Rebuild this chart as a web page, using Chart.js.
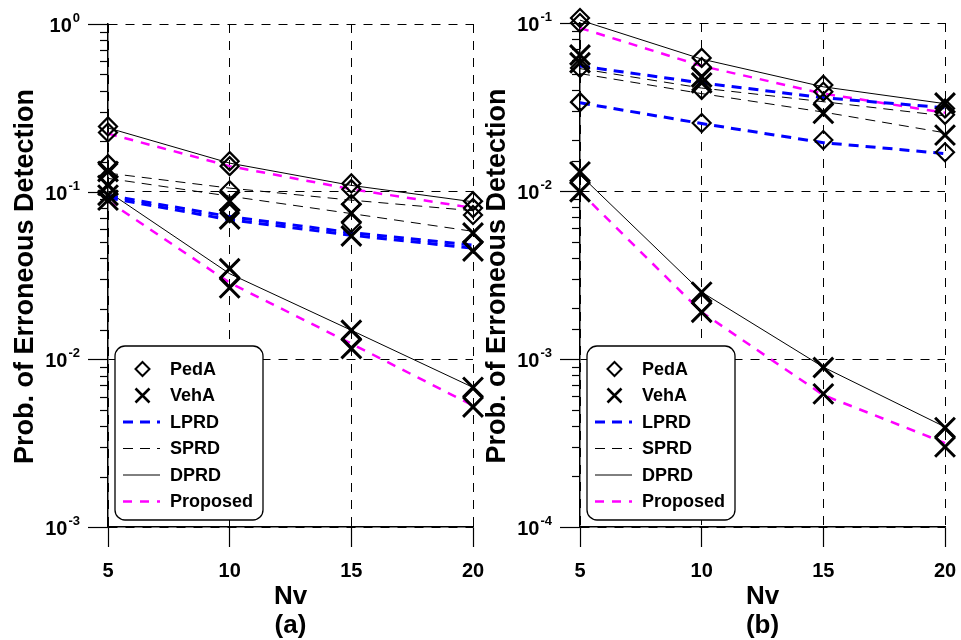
<!DOCTYPE html>
<html>
<head>
<meta charset="utf-8">
<script src="https://cdn.jsdelivr.net/npm/chart.js@4/dist/chart.umd.min.js"></script>
<style>
  html, body { margin: 0; padding: 0; background: #fff; }
  #wrap { position: relative; width: 961px; height: 640px; overflow: hidden; }
  .panel { position: absolute; top: 0; height: 640px; }
  #panelA { left: 0; width: 500px; }
  #panelB { left: 470px; width: 500px; }
</style>
</head>
<body>
<div id="wrap">
  <div class="panel" id="panelA"><canvas id="chartA"></canvas></div>
  <div class="panel" id="panelB"><canvas id="chartB"></canvas></div>
</div>
<script>
// x values (number of vehicles)
const nv = [5, 10, 15, 20];

// ---- panel (a) curves ----
const lprdPedA_a = [0.095, 0.071, 0.057, 0.048];
const lprdVehA_a = [0.092, 0.068, 0.055, 0.046];
const sprdPedA_a = [0.129, 0.105, 0.089, 0.077];
const sprdVehA_a = [0.12, 0.094, 0.074, 0.058];
const dprdPedA_a = [0.24, 0.148, 0.109, 0.087];
const dprdVehA_a = [0.1, 0.0324, 0.0149, 0.0068];
const propPedA_a = [0.222, 0.142, 0.1035, 0.080];
const propVehA_a = [0.088, 0.0286, 0.0124, 0.0053];
// simulated points, one list per Nv value
const pedAMarks_a = [
  [0.245, 0.2255, 0.146, 0.122, 0.098],
  [0.152, 0.142, 0.102, 0.0745, 0.0307],
  [0.112, 0.1035, 0.0843, 0.065, 0.0133],
  [0.0878, 0.0798, 0.0726, 0.0495, 0.0059]
];
const vehAMarks_a = [
  [0.132, 0.109, 0.0953, 0.089],
  [0.0878, 0.0687, 0.0347, 0.0267],
  [0.0745, 0.0544, 0.0149, 0.0116],
  [0.0567, 0.0443, 0.0068, 0.0052]
];

// ---- panel (b) curves ----
const lprdPedA_b = [0.0335, 0.0252, 0.0194, 0.0167];
const lprdVehA_b = [0.0555, 0.044, 0.0359, 0.0313];
const sprdPedA_b = [0.0535, 0.041, 0.034, 0.028];
const sprdVehA_b = [0.05, 0.038, 0.0295, 0.0222];
const dprdPedA_b = [0.104, 0.061, 0.0417, 0.0331];
const dprdVehA_b = [0.0125, 0.0025, 0.000895, 0.000394];
const propPedA_b = [0.0934, 0.0555, 0.038, 0.0292];
const propVehA_b = [0.0099, 0.0019, 0.00061, 0.000316];
const pedAMarks_b = [
  [0.107, 0.1, 0.054, 0.0338, 0.0112],
  [0.062, 0.0547, 0.040, 0.0254, 0.00215],
  [0.0428, 0.039, 0.0334, 0.0201],
  [0.031, 0.0284, 0.017, 0.00034]
];
const vehAMarks_b = [
  [0.0645, 0.058, 0.013, 0.0099],
  [0.0477, 0.044, 0.0025, 0.0019],
  [0.029, 0.00089, 0.00062],
  [0.0334, 0.0215, 0.00039, 0.0003]
];

const xTicks = [5, 10, 15, 20];
const yTitle = 'Prob. of Erroneous Detection';
const xTitle = 'Nv';

Chart.defaults.font.family = "'Liberation Sans', Arial, sans-serif";
Chart.defaults.font.weight = 'bold';
Chart.defaults.color = '#000';

const isDecade = v => Math.abs(Math.log10(v) - Math.round(Math.log10(v))) < 1e-9;

function toPoints(vals) {
  return vals.map((v, i) => ({ x: nv[i], y: v }));
}
function markPoints(lists) {
  const pts = [];
  lists.forEach((list, i) => list.forEach(v => pts.push({ x: nv[i], y: v })));
  return pts;
}

const styles = {
  LPRD: { borderColor: '#0000ff', borderWidth: 3, borderDash: [10, 7] },
  SPRD: { borderColor: '#000000', borderWidth: 1, borderDash: [10, 7] },
  DPRD: { borderColor: '#000000', borderWidth: 1, borderDash: [] },
  Proposed: { borderColor: '#ff00ff', borderWidth: 2.5, borderDash: [9, 8] }
};

function lineSet(label, vals) {
  return Object.assign({
    label: label, data: toPoints(vals), pointRadius: 0, tension: 0,
    fill: false, clip: false
  }, styles[label]);
}

function buildDatasets(p) {
  return [
    { label: 'PedA', data: markPoints(p.pedA), showLine: false, pointStyle: 'rectRot',
      pointRadius: 9, pointBorderWidth: 2.2, pointBorderColor: '#000', pointBackgroundColor: 'rgba(0,0,0,0)',
      borderColor: '#000', clip: false },
    { label: 'VehA', data: markPoints(p.vehA), showLine: false, pointStyle: 'crossRot',
      pointRadius: 14, pointBorderWidth: 3, pointBorderColor: '#000',
      borderColor: '#000', clip: false },
    lineSet('LPRD', p.lprdPedA), lineSet('LPRD', p.lprdVehA),
    lineSet('SPRD', p.sprdPedA), lineSet('SPRD', p.sprdVehA),
    lineSet('DPRD', p.dprdPedA), lineSet('DPRD', p.dprdVehA),
    lineSet('Proposed', p.propPedA), lineSet('Proposed', p.propVehA)
  ];
}

// y tick marks and superscript labels
const logAxisDecor = {
  id: 'logAxisDecor',
  afterDraw(chart) {
    const ctx = chart.ctx, y = chart.scales.y, left = chart.chartArea.left;
    ctx.save();
    ctx.strokeStyle = '#000';
    ctx.lineWidth = 1.2;
    y.ticks.forEach(t => {
      const py = Math.round(y.getPixelForValue(t.value)) + 0.5;
      const len = isDecade(t.value) ? 20 : 8;
      ctx.beginPath();
      ctx.moveTo(left - len, py);
      ctx.lineTo(left, py);
      ctx.stroke();
      if (isDecade(t.value)) {
        const exp = String(Math.round(Math.log10(t.value)));
        ctx.fillStyle = '#000';
        ctx.textBaseline = 'middle';
        ctx.font = "bold 13px 'Liberation Sans', Arial, sans-serif";
        const ew = ctx.measureText(exp).width;
        ctx.textAlign = 'left';
        const ex = left - 28 - ew;
        ctx.fillText(exp, ex, py - 6);
        ctx.font = "bold 20px 'Liberation Sans', Arial, sans-serif";
        ctx.textAlign = 'right';
        ctx.fillText('10', ex - 1, py + 2);
      }
    });
    ctx.restore();
  }
};

// boxed legend in the lower left of the plot
const boxLegend = {
  id: 'boxLegend',
  afterDraw(chart) {
    const ctx = chart.ctx, a = chart.chartArea;
    const seen = new Set(), items = [];
    chart.data.datasets.forEach(ds => {
      if (!seen.has(ds.label)) { seen.add(ds.label); items.push(ds); }
    });
    const x0 = a.left + 7, y0 = a.bottom - 181, w = 148, h = 174, r = 10;
    ctx.save();
    ctx.beginPath();
    ctx.moveTo(x0 + r, y0);
    ctx.arcTo(x0 + w, y0, x0 + w, y0 + h, r);
    ctx.arcTo(x0 + w, y0 + h, x0, y0 + h, r);
    ctx.arcTo(x0, y0 + h, x0, y0, r);
    ctx.arcTo(x0, y0, x0 + w, y0, r);
    ctx.closePath();
    ctx.fillStyle = '#fff';
    ctx.fill();
    ctx.strokeStyle = '#000';
    ctx.lineWidth = 1.3;
    ctx.stroke();
    items.forEach((ds, i) => {
      const cy = y0 + 23 + i * 26.5;
      const sx0 = x0 + 8, sx1 = x0 + 45, cx = (sx0 + sx1) / 2 + 1;
      ctx.setLineDash([]);
      ctx.strokeStyle = '#000';
      if (ds.pointStyle === 'rectRot') {
        const d = 7;
        ctx.lineWidth = 2;
        ctx.beginPath();
        ctx.moveTo(cx, cy - d); ctx.lineTo(cx + d, cy); ctx.lineTo(cx, cy + d); ctx.lineTo(cx - d, cy);
        ctx.closePath();
        ctx.stroke();
      } else if (ds.pointStyle === 'crossRot') {
        const d = 7;
        ctx.lineWidth = 2.6;
        ctx.beginPath();
        ctx.moveTo(cx - d, cy - d); ctx.lineTo(cx + d, cy + d);
        ctx.moveTo(cx + d, cy - d); ctx.lineTo(cx - d, cy + d);
        ctx.stroke();
      } else {
        ctx.strokeStyle = ds.borderColor;
        ctx.lineWidth = ds.borderWidth;
        ctx.setLineDash(ds.borderDash || []);
        ctx.beginPath();
        ctx.moveTo(sx0, cy); ctx.lineTo(sx1, cy);
        ctx.stroke();
      }
      ctx.setLineDash([]);
      ctx.fillStyle = '#000';
      ctx.font = "bold 18px 'Liberation Sans', Arial, sans-serif";
      ctx.textAlign = 'left';
      ctx.textBaseline = 'middle';
      ctx.fillText(ds.label, x0 + 55, cy + 1);
    });
    ctx.restore();
  }
};

function makeChart(canvasId, datasets, yMin, yMax, tag, leftW, rightPad, topPad) {
  const ctx = document.getElementById(canvasId).getContext('2d');
  return new Chart(ctx, {
    type: 'line',
    data: { datasets: datasets },
    options: {
      responsive: true,
      maintainAspectRatio: false,
      animation: false,
      layout: { padding: { left: 0, right: rightPad, top: topPad, bottom: 0 } },
      plugins: { legend: { display: false }, tooltip: { enabled: false } },
      scales: {
        x: {
          type: 'linear', min: 5, max: 20,
          afterBuildTicks: s => { s.ticks = xTicks.map(v => ({ value: v })); },
          afterFit: s => { s.height = 640 - 527; },
          ticks: { font: { size: 20, weight: 'bold' }, color: '#000', padding: 12 },
          grid: { color: '#000', lineWidth: 1, drawTicks: true, tickLength: 20,
                  tickColor: '#000', tickWidth: 1.2, tickBorderDash: [] },
          border: { display: true, color: '#000', width: 1.5, dash: [9, 8] },
          title: { display: true, text: [xTitle, tag], font: { size: 26, weight: 'bold', lineHeight: 1.1 },
                   color: '#000', padding: { top: 0, bottom: 0 } }
        },
        y: {
          type: 'logarithmic', min: yMin, max: yMax,
          afterFit: s => { s.width = leftW; },
          ticks: { display: false, autoSkip: false },
          grid: {
            color: c => (c.tick && isDecade(c.tick.value)) ? '#000' : 'rgba(0,0,0,0)',
            lineWidth: 1, drawTicks: false
          },
          border: { display: true, color: '#000', width: 1.5, dash: [9, 8] },
          title: { display: false }
        }
      }
    },
    plugins: [logAxisDecor, boxLegend, {
      id: 'yTitle',
      afterDraw(chart) {
        const c = chart.ctx, a = chart.chartArea;
        c.save();
        c.translate(a.left - 82, (a.top + a.bottom) / 2 + 1);
        c.rotate(-Math.PI / 2);
        c.font = "bold 27px 'Liberation Sans', Arial, sans-serif";
        c.fillStyle = '#000';
        c.textAlign = 'center';
        c.textBaseline = 'middle';
        c.fillText(yTitle, 0, 0);
        c.restore();
      }
    }]
  });
}

const dsA = buildDatasets({
  pedA: pedAMarks_a, vehA: vehAMarks_a,
  lprdPedA: lprdPedA_a, lprdVehA: lprdVehA_a, sprdPedA: sprdPedA_a, sprdVehA: sprdVehA_a,
  dprdPedA: dprdPedA_a, dprdVehA: dprdVehA_a, propPedA: propPedA_a, propVehA: propVehA_a
});
const dsB = buildDatasets({
  pedA: pedAMarks_b, vehA: vehAMarks_b,
  lprdPedA: lprdPedA_b, lprdVehA: lprdVehA_b, sprdPedA: sprdPedA_b, sprdVehA: sprdVehA_b,
  dprdPedA: dprdPedA_b, dprdVehA: dprdVehA_b, propPedA: propPedA_b, propVehA: propVehA_b
});

// chart areas: (a) x 108..473, (b) x 580..945 in page coordinates
const chartA = makeChart('chartA', dsA, 1e-3, 1, '(a)', 108, 27, 24);
const chartB = makeChart('chartB', dsB, 1e-4, 1e-1, '(b)', 110, 25, 23);
</script>
</body>
</html>
